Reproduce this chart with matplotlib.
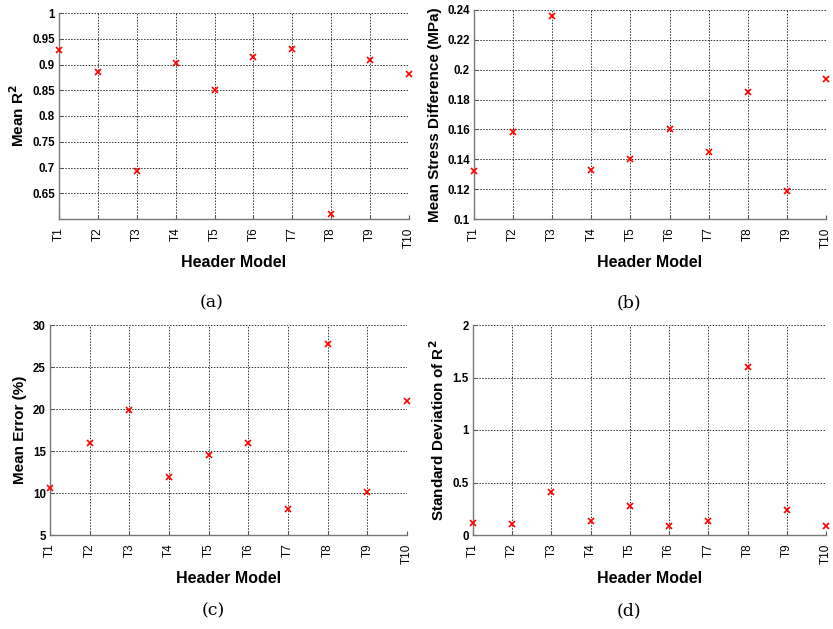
import matplotlib
matplotlib.use("Agg")
import matplotlib.pyplot as plt
import numpy as np

models = ["T1", "T2", "T3", "T4", "T5", "T6", "T7", "T8", "T9", "T10"]
mean_r2 = [0.929, 0.885, 0.694, 0.902, 0.851, 0.914, 0.930, 0.610, 0.909, 0.881]
stress_diff = [0.132, 0.158, 0.236, 0.133, 0.140, 0.160, 0.145, 0.185, 0.119, 0.194]
mean_error = [10.6, 16.0, 19.9, 11.9, 14.5, 15.9, 8.1, 27.7, 10.1, 21.0]
std_r2 = [0.11, 0.105, 0.41, 0.13, 0.275, 0.085, 0.135, 1.60, 0.24, 0.09]

W, H = 833, 629
fig = plt.figure(figsize=(W / 100, H / 100), dpi=100)

def ax_px(l, t, r, b):
    return fig.add_axes([l / W, 1 - b / H, (r - l) / W, (b - t) / H])

panels = [
    dict(box=(59, 13, 409, 219), y=mean_r2, ylim=(0.6, 1.0),
         yticks=[0.65, 0.7, 0.75, 0.8, 0.85, 0.9, 0.95, 1.0],
         yticklabels=["0.65", "0.7", "0.75", "0.8", "0.85", "0.9", "0.95", "1"],
         ylabel=r"Mean R$^\mathbf{2}$", cap="(a)", capxy=(212, 303)),
    dict(box=(474, 10, 826, 219), y=stress_diff, ylim=(0.1, 0.24),
         yticks=[0.1, 0.12, 0.14, 0.16, 0.18, 0.2, 0.22, 0.24],
         yticklabels=["0.1", "0.12", "0.14", "0.16", "0.18", "0.2", "0.22", "0.24"],
         ylabel="Mean Stress Difference (MPa)", cap="(b)", capxy=(629, 303)),
    dict(box=(50, 325, 407, 535), y=mean_error, ylim=(5, 30),
         yticks=[5, 10, 15, 20, 25, 30],
         yticklabels=["5", "10", "15", "20", "25", "30"],
         ylabel="Mean Error (%)", cap="(c)", capxy=(213, 611)),
    dict(box=(473, 325, 826, 535), y=std_r2, ylim=(0, 2),
         yticks=[0, 0.5, 1, 1.5, 2],
         yticklabels=["0", "0.5", "1", "1.5", "2"],
         ylabel=r"Standard Deviation of R$^\mathbf{2}$", cap="(d)", capxy=(629, 611)),
]

x = np.arange(1, len(models) + 1)
for p in panels:
    ax = ax_px(*p["box"])
    ax.plot(x, p["y"], linestyle="none", marker="x", color="#ff0000",
            markersize=4.2, markeredgewidth=1.2, zorder=5, clip_on=False)
    ax.set_xlim(1, 10)
    ax.set_ylim(*p["ylim"])
    ax.set_xticks(x)
    ax.set_xticklabels(models, rotation=90, fontsize=8.5, family="Liberation Sans")
    ax.set_yticks(p["yticks"])
    ax.set_yticklabels(p["yticklabels"], fontsize=8.3, family="Liberation Sans",
                       fontweight="bold")
    ax.grid(True, color="#333333", linestyle=(0, (1.5, 1.5)), linewidth=0.7)
    ax.set_axisbelow(True)
    for s in ["top", "right"]:
        ax.spines[s].set_visible(False)
    for s in ["left", "bottom"]:
        ax.spines[s].set_color("#777777")
        ax.spines[s].set_linewidth(1.0)
    ax.tick_params(direction="in", length=3, width=0.8, color="#555555")
    ax.tick_params(axis="x", pad=6)
    ax.tick_params(axis="y", pad=3)
    ax.set_xlabel("Header Model", fontsize=11.5, fontweight="bold",
                  family="Liberation Sans", labelpad=5)
    ax.set_ylabel(p["ylabel"], fontsize=11, fontweight="bold",
                  family="Liberation Sans", labelpad=4)
    cx, cy = p["capxy"]
    fig.text(cx / W, 1 - cy / H, p["cap"], fontsize=12.5, family="DejaVu Serif",
             ha="center", va="center")

fig.savefig("out.png", dpi=100)
